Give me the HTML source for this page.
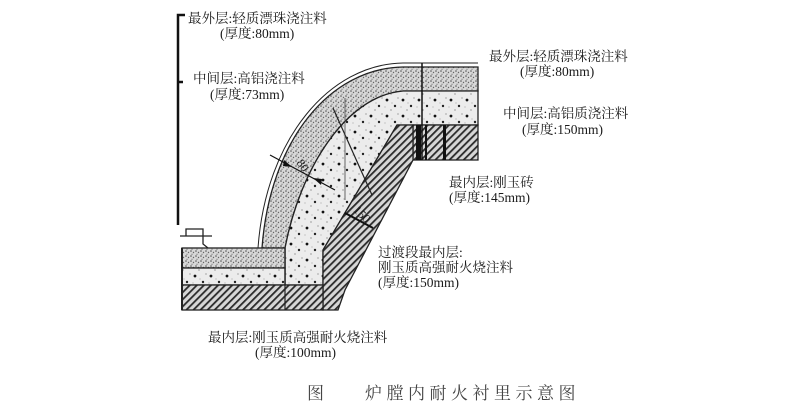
<!DOCTYPE html>
<html><head><meta charset="utf-8"><style>
html,body{margin:0;padding:0;background:#fff;}
svg{display:block;}
text{font-family:"Liberation Serif","Noto Serif CJK SC","Noto Sans CJK SC",serif;fill:#1a1a1a;}
</style></head><body>
<svg width="800" height="415" viewBox="0 0 800 415" xmlns="http://www.w3.org/2000/svg">
<defs>
<pattern id="fine" width="5" height="5" patternUnits="userSpaceOnUse">
<rect width="5" height="5" fill="#d8d8d8"/>
<circle cx="1" cy="1" r="0.8" fill="#555"/><circle cx="3.5" cy="2.5" r="0.7" fill="#666"/><circle cx="2" cy="4.2" r="0.6" fill="#777"/>
</pattern>
<pattern id="coarse" width="16" height="16" patternUnits="userSpaceOnUse">
<rect width="16" height="16" fill="#ececec"/>
<circle cx="3" cy="4" r="1.4" fill="#111"/><circle cx="11" cy="10" r="1.2" fill="#222"/><circle cx="7" cy="14" r="0.6" fill="#666"/><circle cx="14" cy="2" r="0.6" fill="#777"/><circle cx="8" cy="7" r="0.5" fill="#888"/><circle cx="1" cy="11" r="0.5" fill="#888"/>
</pattern>
<pattern id="hatch" width="5" height="5" patternUnits="userSpaceOnUse" patternTransform="rotate(45)">
<rect width="5" height="5" fill="#d6d6d6"/><rect width="1.8" height="5" fill="#2a2a2a"/>
</pattern>
</defs>
<path d="M262,248 C270,140 330,68 403,67 L478,67 L478,91 L403,91 C345,96 300,170 285,248 Z" fill="url(#fine)" stroke="#222" stroke-width="1.3"/>
<path d="M285,248 C300,170 345,96 403,91 L478,91 L478,125 L397,125 L323,250 L323,285 L285,285 Z" fill="url(#coarse)" stroke="#222" stroke-width="1.3"/>
<rect x="413" y="125" width="65" height="35" fill="url(#hatch)" stroke="#222" stroke-width="1.3"/>
<path d="M397,125 L413,125 L413,160 L345,290 L338,310 L323,310 L323,250 Z" fill="url(#hatch)" stroke="#222" stroke-width="1.3"/>
<rect x="182" y="248" width="103" height="20" fill="url(#fine)" stroke="#222" stroke-width="1.3"/>
<rect x="182" y="268" width="103" height="17" fill="url(#coarse)" stroke="#222" stroke-width="1.3"/>
<rect x="182" y="285" width="141" height="25" fill="url(#hatch)" stroke="#222" stroke-width="1.3"/>
<line x1="285" y1="248" x2="285" y2="310" stroke="#222" stroke-width="1.2"/>
<line x1="182" y1="248" x2="182" y2="310" stroke="#222" stroke-width="2"/>
<path d="M258,248 C266,138 330,64 403,63 L478,63" fill="none" stroke="#222" stroke-width="1"/>
<line x1="422" y1="63" x2="422" y2="160" stroke="#111" stroke-width="1.5"/>
<rect x="416" y="125" width="5" height="35" fill="#111"/>
<rect x="425" y="125" width="2" height="35" fill="#111"/>
<rect x="443" y="125" width="3" height="35" fill="#111"/>
<line x1="333" y1="108" x2="372" y2="195" stroke="#222" stroke-width="1.2"/>
<line x1="345" y1="98" x2="345" y2="200" stroke="#444" stroke-width="0.8"/>
<path d="M180,236 L212,236 M186,236 L186,229 L203,229 L203,244 L208,248" fill="none" stroke="#222" stroke-width="1.3"/>
<path d="M178,225 L178,15 L185,15 M178,82 L183,82" fill="none" stroke="#111" stroke-width="2.5"/>
<line x1="270" y1="155" x2="335" y2="190" stroke="#111" stroke-width="1.2"/>
<polygon points="292,167 284,160 283,166" fill="#111"/>
<polygon points="313,178 321,185 322,179" fill="#111"/>
<text x="296" y="167" font-size="12" transform="rotate(55 300 165)">80</text>
<line x1="345" y1="213" x2="373" y2="228" stroke="#111" stroke-width="2"/>
<text x="352" y="217" font-size="12" transform="rotate(45 360 215)">150</text>
<g font-size="13.5">
<text x="188" y="23">最外层:轻质漂珠浇注料</text>
<text x="220" y="38">(厚度:80mm)</text>
<text x="193" y="83">中间层:高铝浇注料</text>
<text x="210" y="99">(厚度:73mm)</text>
<text x="489" y="61">最外层:轻质漂珠浇注料</text>
<text x="520" y="76">(厚度:80mm)</text>
<text x="503" y="118">中间层:高铝质浇注料</text>
<text x="522" y="134">(厚度:150mm)</text>
<text x="449" y="187">最内层:刚玉砖</text>
<text x="449" y="202">(厚度:145mm)</text>
<text x="378" y="257">过渡段最内层:</text>
<text x="378" y="272">刚玉质高强耐火烧注料</text>
<text x="378" y="287">(厚度:150mm)</text>
<text x="208" y="342">最内层:刚玉质高强耐火烧注料</text>
<text x="255" y="357">(厚度:100mm)</text>
</g>
<text x="307" y="399" font-size="17" style="fill:#444">图</text>
<text x="365" y="399" font-size="17" letter-spacing="4.5" style="fill:#444">炉膛内耐火衬里示意图</text>
</svg>
</body></html>
